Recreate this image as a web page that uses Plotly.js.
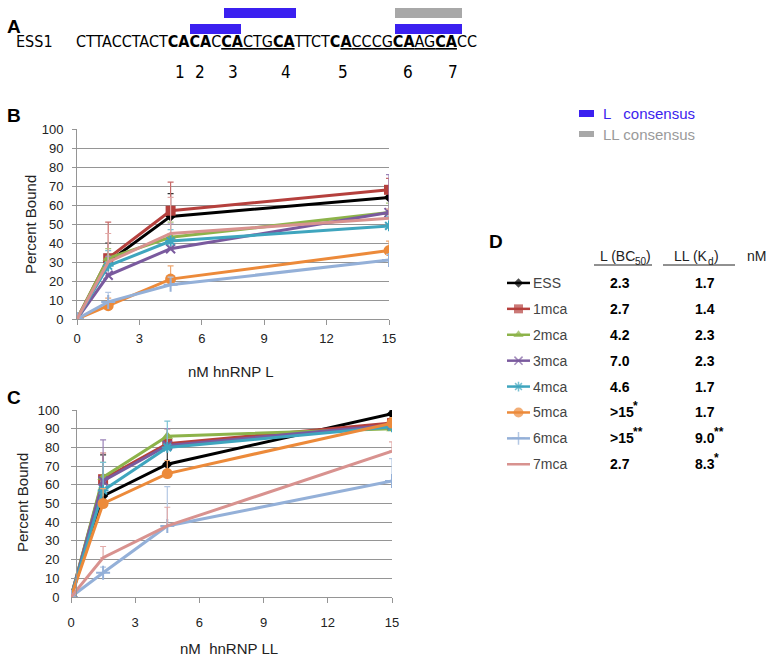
<!DOCTYPE html>
<html><head><meta charset="utf-8">
<script src="https://cdn.plot.ly/plotly-3.0.1.min.js"></script>
<style>body{margin:0;background:#fff}</style></head>
<body><div id="chart" style="width:774px;height:661px"></div>
<script>
// ---------- data ----------
const concL  = [0, 1.5, 4.5, 15];   // nM hnRNP L
const concLL = [0, 1.5, 4.5, 15];   // nM hnRNP LL
const seriesNames = ['ESS','1mca','2mca','3mca','4mca','5mca','6mca','7mca'];

// Panel B: percent bound vs hnRNP L
const bL_ESS  = [0, 30, 54, 64];
const bL_1mca = [0, 32, 57, 68];
const bL_2mca = [0, 32, 43, 56];
const bL_3mca = [0, 23, 37, 56];
const bL_4mca = [0, 28, 41, 49];
const bL_5mca = [0, 7, 21, 36];
const bL_6mca = [0, 9, 18, 31];
const bL_7mca = [0, 30, 45, 53];
const eL_ESS  = [0, 10, 12, 5];
const eL_1mca = [0, 19, 15, 6];
const eL_2mca = [0, 5, 8, 5];
const eL_3mca = [0, 10, 13, 20];
const eL_4mca = [0, 8, 6, 5];
const eL_5mca = [0, 4, 7, 5];
const eL_6mca = [0, 5, 4, 3];
const eL_7mca = [0, 15, 19, 5];

// Panel C: percent bound vs hnRNP LL
const bLL_ESS  = [0, 54, 71, 98];
const bLL_1mca = [0, 63, 82, 93];
const bLL_2mca = [0, 64, 86, 90];
const bLL_3mca = [0, 62, 81, 92];
const bLL_4mca = [0, 57, 80, 91];
const bLL_5mca = [0, 50, 66, 93];
const bLL_6mca = [0, 13, 38, 62];
const bLL_7mca = [0, 21, 38, 78];
const eLL_ESS  = [0, 22, 10, 2];
const eLL_1mca = [0, 14, 8, 3];
const eLL_2mca = [0, 8, 4, 3];
const eLL_3mca = [0, 22, 9, 3];
const eLL_4mca = [0, 15, 14, 3];
const eLL_5mca = [0, 8, 7, 3];
const eLL_6mca = [0, 3, 21, 12];
const eLL_7mca = [0, 6, 10, 5];

// Panel D table (value, significance stars)
const bc50Values = ['2.3','2.7','4.2','7.0','4.6','>15','>15','2.7'];
const bc50Stars  = ['','','','','','*','**',''];
const kdValues   = ['1.7','1.4','2.3','2.3','1.7','1.7','9.0','8.3'];
const kdStars    = ['','','','','','','**','*'];

// Panel A sequence segments: [text, bold, underline]
const seqSegments = [
  ['CTTACCTACT',0,0],['CACA',1,0],['C',0,0],['CA',1,1],['CTG',0,1],['CA',1,1],
  ['TTCT',0,0],['C',1,0],['A',1,1],['CCCG',0,1],['CA',1,1],['AG',0,1],['CA',1,1],['CC',0,0]
];
const siteLabels = ['1','2','3','4','5','6','7'];

// ---------- styles ----------
const colors  = ['#000000','#b5403d','#8db34a','#7a5a9e','#3fa5be','#ec8a3a','#94b0d8','#d8928f'];
const errCols = ['#333333','#c86a68','#a9c77a','#9a82b8','#7cc2d4','#f0a870','#b4c8e4','#e2aaa8'];
const symbols = ['diamond','square','triangle-up','x-thin-open','asterisk-open','circle','cross-thin-open',null];
const msizes  = [8, 10, 10, 9, 9, 11, 10, 0];

const bL  = [bL_ESS,bL_1mca,bL_2mca,bL_3mca,bL_4mca,bL_5mca,bL_6mca,bL_7mca];
const eL  = [eL_ESS,eL_1mca,eL_2mca,eL_3mca,eL_4mca,eL_5mca,eL_6mca,eL_7mca];
const bLL = [bLL_ESS,bLL_1mca,bLL_2mca,bLL_3mca,bLL_4mca,bLL_5mca,bLL_6mca,bLL_7mca];
const eLL = [eLL_ESS,eLL_1mca,eLL_2mca,eLL_3mca,eLL_4mca,eLL_5mca,eLL_6mca,eLL_7mca];

const W = 774, H = 661;
const px = x => x / W, py = y => 1 - y / H;

function seriesTrace(i, xs, ys, es, xa, ya) {
  const t = {
    x: xs, y: ys, xaxis: xa, yaxis: ya, name: seriesNames[i], showlegend: false,
    type: 'scatter', mode: symbols[i] ? 'lines+markers' : 'lines',
    line: {color: colors[i], width: 3},
    error_y: {type: 'data', symmetric: false, array: es, arrayminus: es.map(() => 0),
              color: errCols[i], thickness: 1.2, width: 3}
  };
  if (symbols[i]) t.marker = {symbol: symbols[i], size: msizes[i], color: colors[i],
                               line: {color: colors[i], width: symbols[i].includes('open') ? 2 : 0}};
  return t;
}

const traces = [];
for (let i = 0; i < 8; i++) traces.push(seriesTrace(i, concL, bL[i], eL[i], 'x', 'y'));
for (let i = 0; i < 8; i++) traces.push(seriesTrace(i, concLL, bLL[i], eLL[i], 'x2', 'y2'));
// legend glyphs for table D
for (let i = 0; i < 8; i++) {
  const t = {x: [0, 0.5, 1], y: [i, i, i], xaxis: 'x3', yaxis: 'y3', showlegend: false,
    hoverinfo: 'skip', type: 'scatter', mode: symbols[i] ? 'lines+markers' : 'lines',
    line: {color: colors[i], width: 2.5}};
  if (symbols[i]) t.marker = {symbol: symbols[i], size: [0, msizes[i] * 0.9, 0], color: colors[i],
                               line: {color: colors[i], width: symbols[i].includes('open') ? 1.5 : 0}};
  traces.push(t);
}

const tickFont = {family: 'Liberation Sans, Arial, sans-serif', size: 13, color: '#222'};
function yax(domain, stand) {
  return {domain, range: [0, 100], dtick: 10, tick0: 0, showgrid: true, gridcolor: '#959595', gridwidth: 1,
    showline: true, linecolor: '#959595', ticks: 'outside', ticklen: 4, tickcolor: '#959595',
    tickfont: tickFont, zeroline: false, fixedrange: true, ticklabelstandoff: stand};
}
function xax(domain, anchor, stand) {
  return {domain, anchor, range: [0, 15], tickvals: [0, 3, 6, 9, 12, 15], showgrid: false,
    showline: true, linecolor: '#959595', ticks: 'outside', ticklen: 5, tickcolor: '#959595',
    tickfont: tickFont, zeroline: false, fixedrange: true, ticklabelstandoff: stand};
}

const seqFont = 'DejaVu Sans Condensed, Liberation Sans Narrow, sans-serif';
const seqText = seqSegments.map(([s, b, u]) => {
  let t = s; if (b) t = '<b>' + t + '</b>'; if (u) t = '<u>' + t + '</u>'; return t;
}).join('');
const siteX = [180, 200, 233, 286, 343, 408, 453];

const ann = [];
const A = (x, y, text, opts) => ann.push(Object.assign({xref: 'paper', yref: 'paper', x: px(x), y: py(y),
  text, showarrow: false, xanchor: 'left', yanchor: 'middle'}, opts || {}));
const F = (size, color, fam) => ({family: fam || 'Liberation Sans, Arial', size, color});

// Panel A
A(5, 27, '<b>A</b>', {font: F(19, '#000')});
A(14, 42, 'ESS1', {font: F(16, '#000', seqFont)});
A(74, 42, seqText, {font: F(16, '#000', seqFont)});
siteLabels.forEach((s, k) => A(siteX[k], 72, s, {xanchor: 'center', font: F(17, '#000', seqFont)}));
A(601, 113, 'L   consensus', {font: F(15, '#3b22ee')});
A(601, 134, 'LL consensus', {font: F(15, '#9a9a9a')});

// Panel letters & axis titles
A(5, 116, '<b>B</b>', {font: F(19, '#000')});
A(5, 397, '<b>C</b>', {font: F(19, '#000')});
A(30, 225, 'Percent Bound', {xanchor: 'center', textangle: -90, font: F(15, '#222')});
A(22, 503, 'Percent Bound', {xanchor: 'center', textangle: -90, font: F(15, '#222')});
A(231, 371, 'nM hnRNP L', {xanchor: 'center', font: F(15, '#222')});
A(229, 648, 'nM  hnRNP LL', {xanchor: 'center', font: F(15, '#222')});

// Panel D header
A(487, 241, '<b>D</b>', {font: F(19, '#000')});
A(637, 256, 'L (BC', {xanchor: 'right', font: F(14, '#222')});
A(633, 261, '50', {font: F(10, '#222')});
A(644, 256, ')', {font: F(14, '#222')});
A(710, 256, 'LL (K', {xanchor: 'right', font: F(14, '#222')});
A(706, 261, 'd', {font: F(10, '#222')});
A(712, 256, ')', {font: F(14, '#222')});
A(745, 256, 'nM', {font: F(14, '#222')});
// Panel D rows
for (let i = 0; i < 8; i++) {
  const base = {yref: 'y3', showarrow: false, xanchor: 'left', yanchor: 'middle', xref: 'paper'};
  ann.push(Object.assign({}, base, {x: px(531), y: i, text: seriesNames[i], font: F(14, '#444')}));
  ann.push(Object.assign({}, base, {x: px(608), y: i, text: '<b>' + bc50Values[i] + '</b>', font: F(14, '#000')}));
  ann.push(Object.assign({}, base, {x: px(693), y: i, text: '<b>' + kdValues[i] + '</b>', font: F(14, '#000')}));
  if (bc50Stars[i]) ann.push(Object.assign({}, base, {x: px(631), y: i - 0.25, text: '<b>' + bc50Stars[i] + '</b>', font: F(12, '#000')}));
  if (kdStars[i]) ann.push(Object.assign({}, base, {x: px(712), y: i - 0.25, text: '<b>' + kdStars[i] + '</b>', font: F(12, '#000')}));
}

const rect = (x0, y0, x1, y1, c) => ({type: 'rect', xref: 'paper', yref: 'paper',
  x0: px(x0), x1: px(x1), y0: py(y1), y1: py(y0), fillcolor: c, line: {width: 0}});
const hline = (x0, x1, y) => ({type: 'line', xref: 'paper', yref: 'paper', x0: px(x0), x1: px(x1),
  y0: py(y), y1: py(y), line: {color: '#222', width: 1}});
const blue = '#3b20f0', gray = '#a8a8a8';
const shapes = [
  rect(224, 8, 296, 18, blue), rect(190, 24, 241, 34, blue),
  rect(395, 8, 462, 18, gray), rect(395, 24, 462, 34, blue),
  rect(579, 110, 594, 117, blue), rect(579, 131, 594, 137, gray),
  hline(594, 652, 265), hline(663, 735, 265)
];

const layout = {
  width: W, height: H, margin: {l: 0, r: 0, t: 0, b: 0},
  paper_bgcolor: '#fff', plot_bgcolor: 'rgba(0,0,0,0)', showlegend: false,
  xaxis: xax([px(77), px(389)], 'y', 2),
  yaxis: yax([py(319), py(129)], 6),
  xaxis2: xax([px(71), px(392)], 'y2', 8),
  yaxis2: yax([py(597), py(410)], 10),
  xaxis3: {domain: [px(507), px(530)], range: [0, 1], visible: false, anchor: 'y3', fixedrange: true},
  yaxis3: {domain: [py(478), py(270)], range: [7.53, -0.5], visible: false, anchor: 'x3', fixedrange: true},
  annotations: ann, shapes
};
Plotly.newPlot('chart', traces, layout, {staticPlot: true, displayModeBar: false});
</script></body></html>
